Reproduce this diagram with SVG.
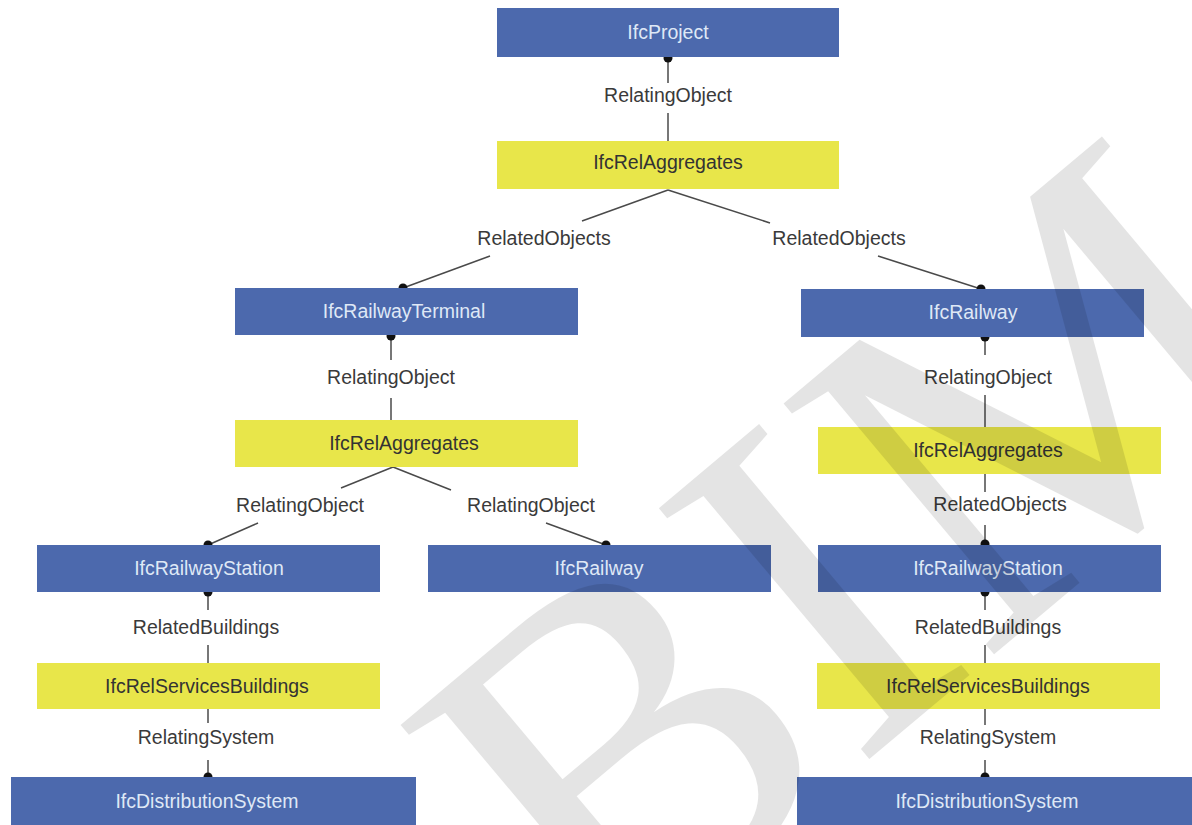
<svg xmlns="http://www.w3.org/2000/svg" width="1192" height="825" viewBox="0 0 1192 825">
  <style>
    .entity { fill: #4c69ad; }
    .rel { fill: #e8e64a; }
    .entity-text { fill: #dfe8f6; font-family: "Liberation Sans", Arial, sans-serif; font-size: 19.5px; text-anchor: middle; }
    .rel-text { fill: #333333; font-family: "Liberation Sans", Arial, sans-serif; font-size: 19.5px; text-anchor: middle; }
    .label { fill: #3a3a3a; font-family: "Liberation Sans", Arial, sans-serif; font-size: 19.5px; text-anchor: middle; }
    .link { stroke: #4a4a4a; stroke-width: 1.5; fill: none; }
    .dot { fill: #111111; }
    .mark { fill: #000000; opacity: 0.1; font-family: "Liberation Serif", "Times New Roman", serif; }
  </style>

  <rect width="1192" height="825" fill="#ffffff"/>

  <!-- connectors with their role labels -->
  <g id="connectors">
    <!-- IfcProject -> IfcRelAggregates -->
    <line class="link" x1="668" y1="57" x2="668" y2="83"/>
    <line class="link" x1="668" y1="113" x2="668" y2="141"/>
    <circle class="dot" cx="668" cy="58" r="4.5"/>
    <text class="label" x="668" y="102">RelatingObject</text>

    <!-- IfcRelAggregates -> IfcRailwayTerminal / IfcRailway -->
    <line class="link" x1="668" y1="190" x2="582" y2="221"/>
    <line class="link" x1="668" y1="190" x2="770" y2="223"/>
    <line class="link" x1="490" y1="256" x2="403" y2="288"/>
    <line class="link" x1="878" y1="256" x2="981" y2="289"/>
    <circle class="dot" cx="403" cy="288" r="4.5"/>
    <circle class="dot" cx="981" cy="289" r="4.5"/>
    <text class="label" x="544" y="245">RelatedObjects</text>
    <text class="label" x="839" y="245">RelatedObjects</text>

    <!-- IfcRailwayTerminal -> IfcRelAggregates -->
    <line class="link" x1="391" y1="336" x2="391" y2="360"/>
    <line class="link" x1="391" y1="398" x2="391" y2="420"/>
    <circle class="dot" cx="391" cy="336" r="4.5"/>
    <text class="label" x="391" y="384">RelatingObject</text>

    <!-- IfcRelAggregates -> IfcRailwayStation / IfcRailway -->
    <line class="link" x1="393" y1="467" x2="341" y2="488"/>
    <line class="link" x1="393" y1="467" x2="451" y2="490"/>
    <line class="link" x1="258" y1="523" x2="208" y2="545"/>
    <line class="link" x1="546" y1="523" x2="606" y2="545"/>
    <circle class="dot" cx="208" cy="545" r="4.5"/>
    <circle class="dot" cx="606" cy="545" r="4.5"/>
    <text class="label" x="300" y="512">RelatingObject</text>
    <text class="label" x="531" y="512">RelatingObject</text>

    <!-- left: IfcRailwayStation -> IfcRelServicesBuildings -> IfcDistributionSystem -->
    <line class="link" x1="208" y1="592" x2="208" y2="610"/>
    <line class="link" x1="208" y1="645" x2="208" y2="663"/>
    <line class="link" x1="208" y1="709" x2="208" y2="723"/>
    <line class="link" x1="208" y1="760" x2="208" y2="777"/>
    <circle class="dot" cx="208" cy="592" r="4.5"/>
    <circle class="dot" cx="208" cy="777" r="4.5"/>
    <text class="label" x="206" y="634">RelatedBuildings</text>
    <text class="label" x="206" y="744">RelatingSystem</text>

    <!-- right: IfcRailway -> IfcRelAggregates -> IfcRailwayStation -->
    <line class="link" x1="985" y1="337" x2="985" y2="355"/>
    <line class="link" x1="985" y1="395" x2="985" y2="427"/>
    <line class="link" x1="985" y1="474" x2="985" y2="492"/>
    <line class="link" x1="985" y1="525" x2="985" y2="544"/>
    <circle class="dot" cx="985" cy="337" r="4.5"/>
    <circle class="dot" cx="985" cy="544" r="4.5"/>
    <text class="label" x="988" y="384">RelatingObject</text>
    <text class="label" x="1000" y="511">RelatedObjects</text>

    <!-- right: IfcRailwayStation -> IfcRelServicesBuildings -> IfcDistributionSystem -->
    <line class="link" x1="985" y1="592" x2="985" y2="610"/>
    <line class="link" x1="985" y1="645" x2="985" y2="663"/>
    <line class="link" x1="985" y1="709" x2="985" y2="725"/>
    <line class="link" x1="985" y1="760" x2="985" y2="777"/>
    <circle class="dot" cx="985" cy="592" r="4.5"/>
    <circle class="dot" cx="985" cy="777" r="4.5"/>
    <text class="label" x="988" y="634">RelatedBuildings</text>
    <text class="label" x="988" y="744">RelatingSystem</text>
  </g>

  <!-- nodes -->
  <g id="ifc-project">
    <rect class="entity" x="497" y="8" width="342" height="49"/>
    <text class="entity-text" x="668" y="39">IfcProject</text>
  </g>
  <g id="rel-aggregates-project">
    <rect class="rel" x="497" y="141" width="342" height="48"/>
    <text class="rel-text" x="668" y="169">IfcRelAggregates</text>
  </g>
  <g id="railway-terminal">
    <rect class="entity" x="235" y="288" width="343" height="47"/>
    <text class="entity-text" x="404" y="318">IfcRailwayTerminal</text>
  </g>
  <g id="railway-right">
    <rect class="entity" x="801" y="289" width="343" height="48"/>
    <text class="entity-text" x="973" y="319">IfcRailway</text>
  </g>
  <g id="rel-aggregates-terminal">
    <rect class="rel" x="235" y="420" width="343" height="47"/>
    <text class="rel-text" x="404" y="450">IfcRelAggregates</text>
  </g>
  <g id="rel-aggregates-railway">
    <rect class="rel" x="818" y="427" width="343" height="47"/>
    <text class="rel-text" x="988" y="457">IfcRelAggregates</text>
  </g>
  <g id="railway-station-left">
    <rect class="entity" x="37" y="545" width="343" height="47"/>
    <text class="entity-text" x="209" y="575">IfcRailwayStation</text>
  </g>
  <g id="railway-middle">
    <rect class="entity" x="428" y="545" width="343" height="47"/>
    <text class="entity-text" x="599" y="575">IfcRailway</text>
  </g>
  <g id="railway-station-right">
    <rect class="entity" x="818" y="545" width="343" height="47"/>
    <text class="entity-text" x="988" y="575">IfcRailwayStation</text>
  </g>
  <g id="rel-services-left">
    <rect class="rel" x="37" y="663" width="343" height="46"/>
    <text class="rel-text" x="207" y="693">IfcRelServicesBuildings</text>
  </g>
  <g id="rel-services-right">
    <rect class="rel" x="817" y="663" width="343" height="46"/>
    <text class="rel-text" x="988" y="693">IfcRelServicesBuildings</text>
  </g>
  <g id="distribution-left">
    <rect class="entity" x="11" y="777" width="405" height="52"/>
    <text class="entity-text" x="207" y="808">IfcDistributionSystem</text>
  </g>
  <g id="distribution-right">
    <rect class="entity" x="797" y="777" width="400" height="52"/>
    <text class="entity-text" x="987" y="808">IfcDistributionSystem</text>
  </g>

  <!-- faint watermark lettering over the sheet -->
  <text class="mark" font-size="500" transform="translate(600,985) rotate(-40)">BIM</text>
</svg>
